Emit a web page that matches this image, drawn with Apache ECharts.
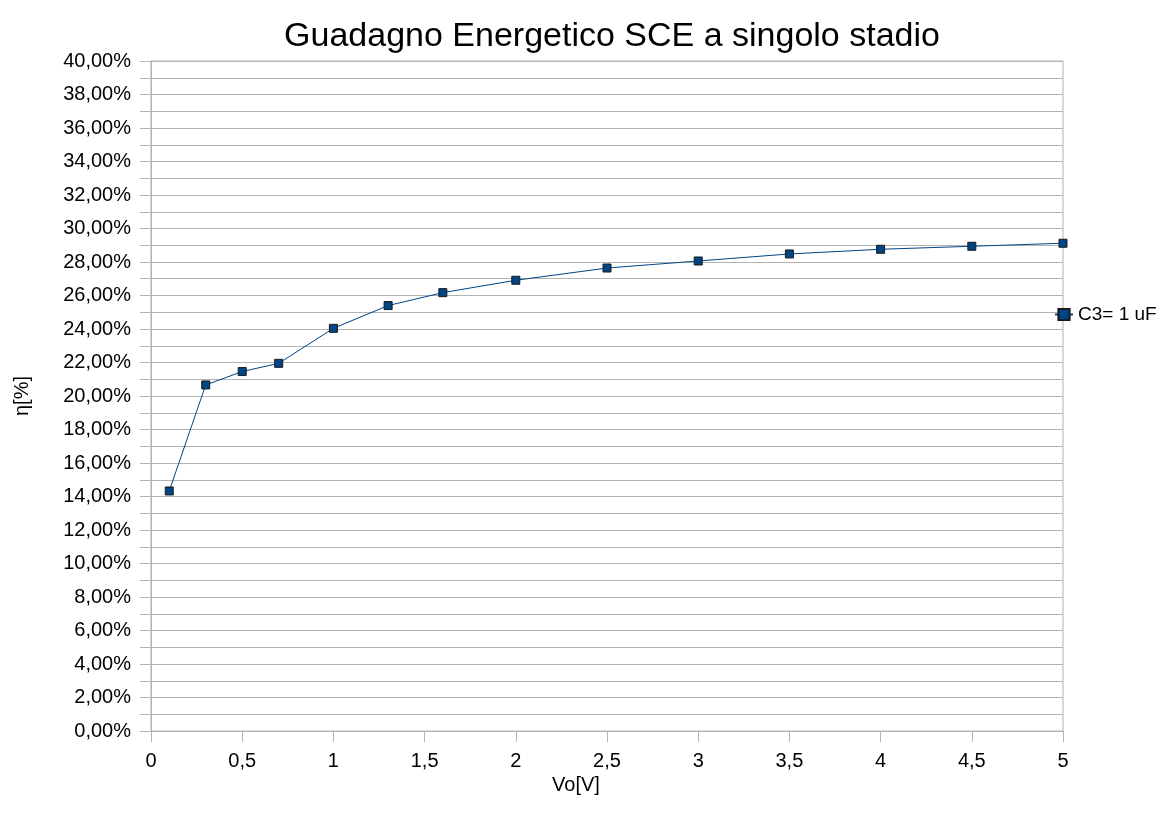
<!DOCTYPE html>
<html>
<head>
<meta charset="utf-8">
<script src="https://cdn.jsdelivr.net/npm/echarts@6/dist/echarts.min.js"></script>
<style>html,body{margin:0;padding:0;background:#fff;}#c{width:1165px;height:823px;}</style>
</head>
<body>
<div id="c"></div>
<script>
const titleText = 'Guadagno Energetico SCE a singolo stadio';
const seriesName = 'C3= 1 uF';
const xValues = [0.1, 0.3, 0.5, 0.7, 1.0, 1.3, 1.6, 2.0, 2.5, 3.0, 3.5, 4.0, 4.5, 5.0];
const yValues = [14.33, 20.66, 21.46, 21.95, 24.04, 25.40, 26.17, 26.91, 27.64, 28.06, 28.48, 28.76, 28.94, 29.12];
const xAxisName = 'Vo[V]';
const yAxisName = 'η[%]';

const font = 'Liberation Sans, Arial, sans-serif';
const chart = echarts.init(document.getElementById('c'));
chart.setOption({
  backgroundColor: '#fff',
  animation: false,
  textStyle: { fontFamily: font },
  title: {
    text: titleText, left: 607, textAlign: 'center', top: 15,
    textStyle: { fontFamily: font, fontSize: 34, fontWeight: 'normal', color: '#000' }
  },
  legend: {
    data: [seriesName], left: 1049, top: 300, orient: 'vertical',
    itemWidth: 18, itemHeight: 14, itemGap: 6,
    textStyle: { fontFamily: font, fontSize: 19, color: '#000' }
  },
  grid: { left: 151, right: 102, top: 61, bottom: 92, show: true, borderColor: '#b3b3b3', borderWidth: 1 },
  xAxis: {
    type: 'value', min: 0, max: 5, interval: 0.5,
    name: xAxisName, nameLocation: 'middle', nameGap: 31,
    nameTextStyle: { fontFamily: font, fontSize: 20, color: '#000', padding: [0, 62, 0, 0] },
    axisLine: { show: true, lineStyle: { color: '#b3b3b3' } },
    axisTick: { show: true, length: 11, lineStyle: { color: '#b3b3b3' } },
    axisLabel: { fontFamily: font, fontSize: 20, color: '#000', margin: 20,
      formatter: v => String(Math.round(v * 10) / 10).replace('.', ',') },
    splitLine: { show: false }
  },
  yAxis: {
    type: 'value', min: 0, max: 40, interval: 1,
    name: yAxisName, nameLocation: 'middle', nameGap: 119,
    nameTextStyle: { fontFamily: font, fontSize: 20, color: '#000' },
    axisLine: { show: true, lineStyle: { color: '#b3b3b3' } },
    axisTick: { show: true, length: 11, lineStyle: { color: '#b3b3b3' } },
    axisLabel: { fontFamily: font, fontSize: 20, color: '#000', margin: 20,
      formatter: v => (Math.round(v) % 2 === 0 ? v.toFixed(2).replace('.', ',') + '%' : '') },
    splitLine: { show: true, lineStyle: { color: '#b3b3b3', width: 1 } }
  },
  series: [{
    name: seriesName, type: 'line',
    data: xValues.map((x, i) => [x, yValues[i]]),
    symbol: 'rect', symbolSize: 8,
    lineStyle: { color: '#004586', width: 1 },
    itemStyle: { color: '#004586', borderColor: '#1a1a1a', borderWidth: 1 }
  }]
});
</script>
</body>
</html>
